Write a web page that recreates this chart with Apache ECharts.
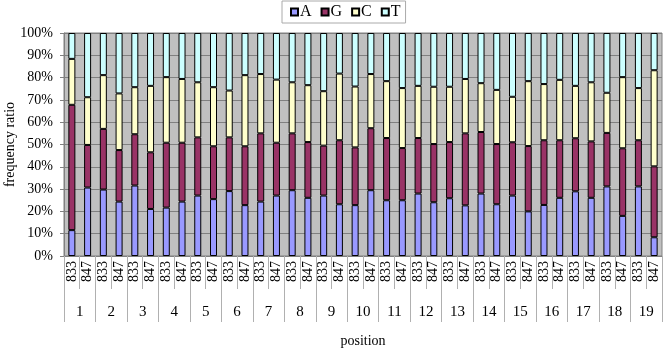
<!DOCTYPE html>
<html><head><meta charset="utf-8">
<script src="https://cdn.jsdelivr.net/npm/echarts@6/dist/echarts.min.js"></script>
<style>html,body{margin:0;padding:0;background:#fff}#c{width:663px;height:353px}</style>
</head><body><div id="c"></div>
<script>
var samples = ['833','847'];
var positions = ['1','2','3','4','5','6','7','8','9','10','11','12','13','14','15','16','17','18','19'];
var A = [11.6,30.7,29.8,24.4,31.6,21.1,21.7,24.4,27.1,25.5,29.1,22.8,24.4,27.1,29.5,26.1,27.1,23.2,22.8,29.5,25.0,25.0,28.0,24.1,25.9,22.7,28.0,23.2,27.1,20.0,22.9,26.1,29.0,26.1,31.2,18.0,31.2,8.4];
var G = [56.2,19.1,27.2,23.1,23.0,25.4,29.1,26.4,26.1,23.7,24.1,26.4,30.6,23.7,25.5,25.0,22.4,28.7,25.9,27.8,27.9,23.4,24.9,26.1,25.2,32.3,27.6,27.0,23.9,29.3,29.0,25.8,23.8,25.3,24.0,30.3,20.7,31.8];
var C = [20.6,21.4,24.1,25.4,21.1,29.8,29.4,28.6,24.7,26.5,21.0,31.9,26.6,28.3,22.9,25.5,24.4,29.9,27.3,24.3,25.5,26.9,23.4,25.7,24.8,24.4,21.9,24.3,20.4,29.1,25.2,27.1,23.5,26.5,18.0,31.9,23.4,43.1];
var T = [11.6,28.8,18.9,27.1,24.3,23.7,19.8,20.6,22.1,24.3,25.8,18.9,18.4,20.9,22.1,23.4,26.1,18.2,24.0,18.4,21.6,24.7,23.7,24.1,24.1,20.6,22.5,25.5,28.6,21.6,22.9,21.0,23.7,22.1,26.8,19.8,24.7,16.7];
var yTicks = [0,10,20,30,40,50,60,70,80,90,100];

var cats = [];
positions.forEach(function(p){ samples.forEach(function(s){ cats.push(s); }); });
var font = 'Liberation Serif';
function mk(name, data, color){
  return {name:name, type:'bar', stack:'t', data:data, barWidth:7,
    itemStyle:{color:color, borderColor:'#000', borderWidth:1}, xAxisIndex:0};
}
var chart = echarts.init(document.getElementById('c'));
chart.setOption({
  animation:false,
  textStyle:{fontFamily:font},
  legend:{top:1, left:282, itemWidth:7, itemHeight:7, itemGap:9, icon:'rect',
    borderColor:'#aaa', borderWidth:1, padding:[3,5,3,8],
    textStyle:{fontFamily:font, fontSize:16, color:'#000', padding:[0,0,0,-3]},
    data:['A','G','C','T']},
  grid:{left:64, right:1, top:33, bottom:97, outerBoundsMode:'none', containLabel:false,
    show:true, backgroundColor:'#C0C0C0', borderColor:'#808080', borderWidth:1},
  xAxis:[
    {type:'category', data:cats, position:'bottom',
      axisLine:{lineStyle:{color:'#808080'}},
      axisTick:{show:true, interval:0, length:33, lineStyle:{color:'#b0b0b0'}},
      axisLabel:{interval:0, rotate:90, margin:5, fontFamily:font, fontSize:14, color:'#000'}},
    {type:'category', data:positions, position:'bottom',
      axisLine:{show:false},
      axisTick:{show:true, interval:0, length:66, lineStyle:{color:'#b0b0b0'}},
      axisLabel:{interval:0, margin:49, fontFamily:font, fontSize:15, color:'#000'},
      name:'position', nameLocation:'middle', nameGap:78, nameMoveOverlap:false,
      nameTextStyle:{fontFamily:font, fontSize:14, color:'#000'}}
  ],
  yAxis:{type:'value', min:0, max:100, interval:10,
    axisLine:{show:true, lineStyle:{color:'#808080'}},
    axisTick:{show:true, length:4, lineStyle:{color:'#808080'}},
    splitLine:{lineStyle:{color:'#808080'}},
    axisLabel:{formatter:function(v){return yTicks.indexOf(v)>=0 ? v+'%' : '';}, margin:11, fontFamily:font, fontSize:14, color:'#000'},
    name:'frequency ratio', nameLocation:'middle', nameGap:47, nameMoveOverlap:false,
    nameTextStyle:{fontFamily:font, fontSize:14, color:'#000'}},
  series:[mk('A',A,'#9999FF'), mk('G',G,'#993366'), mk('C',C,'#FFFFCC'), mk('T',T,'#CCFFFF')]
});
</script></body></html>
